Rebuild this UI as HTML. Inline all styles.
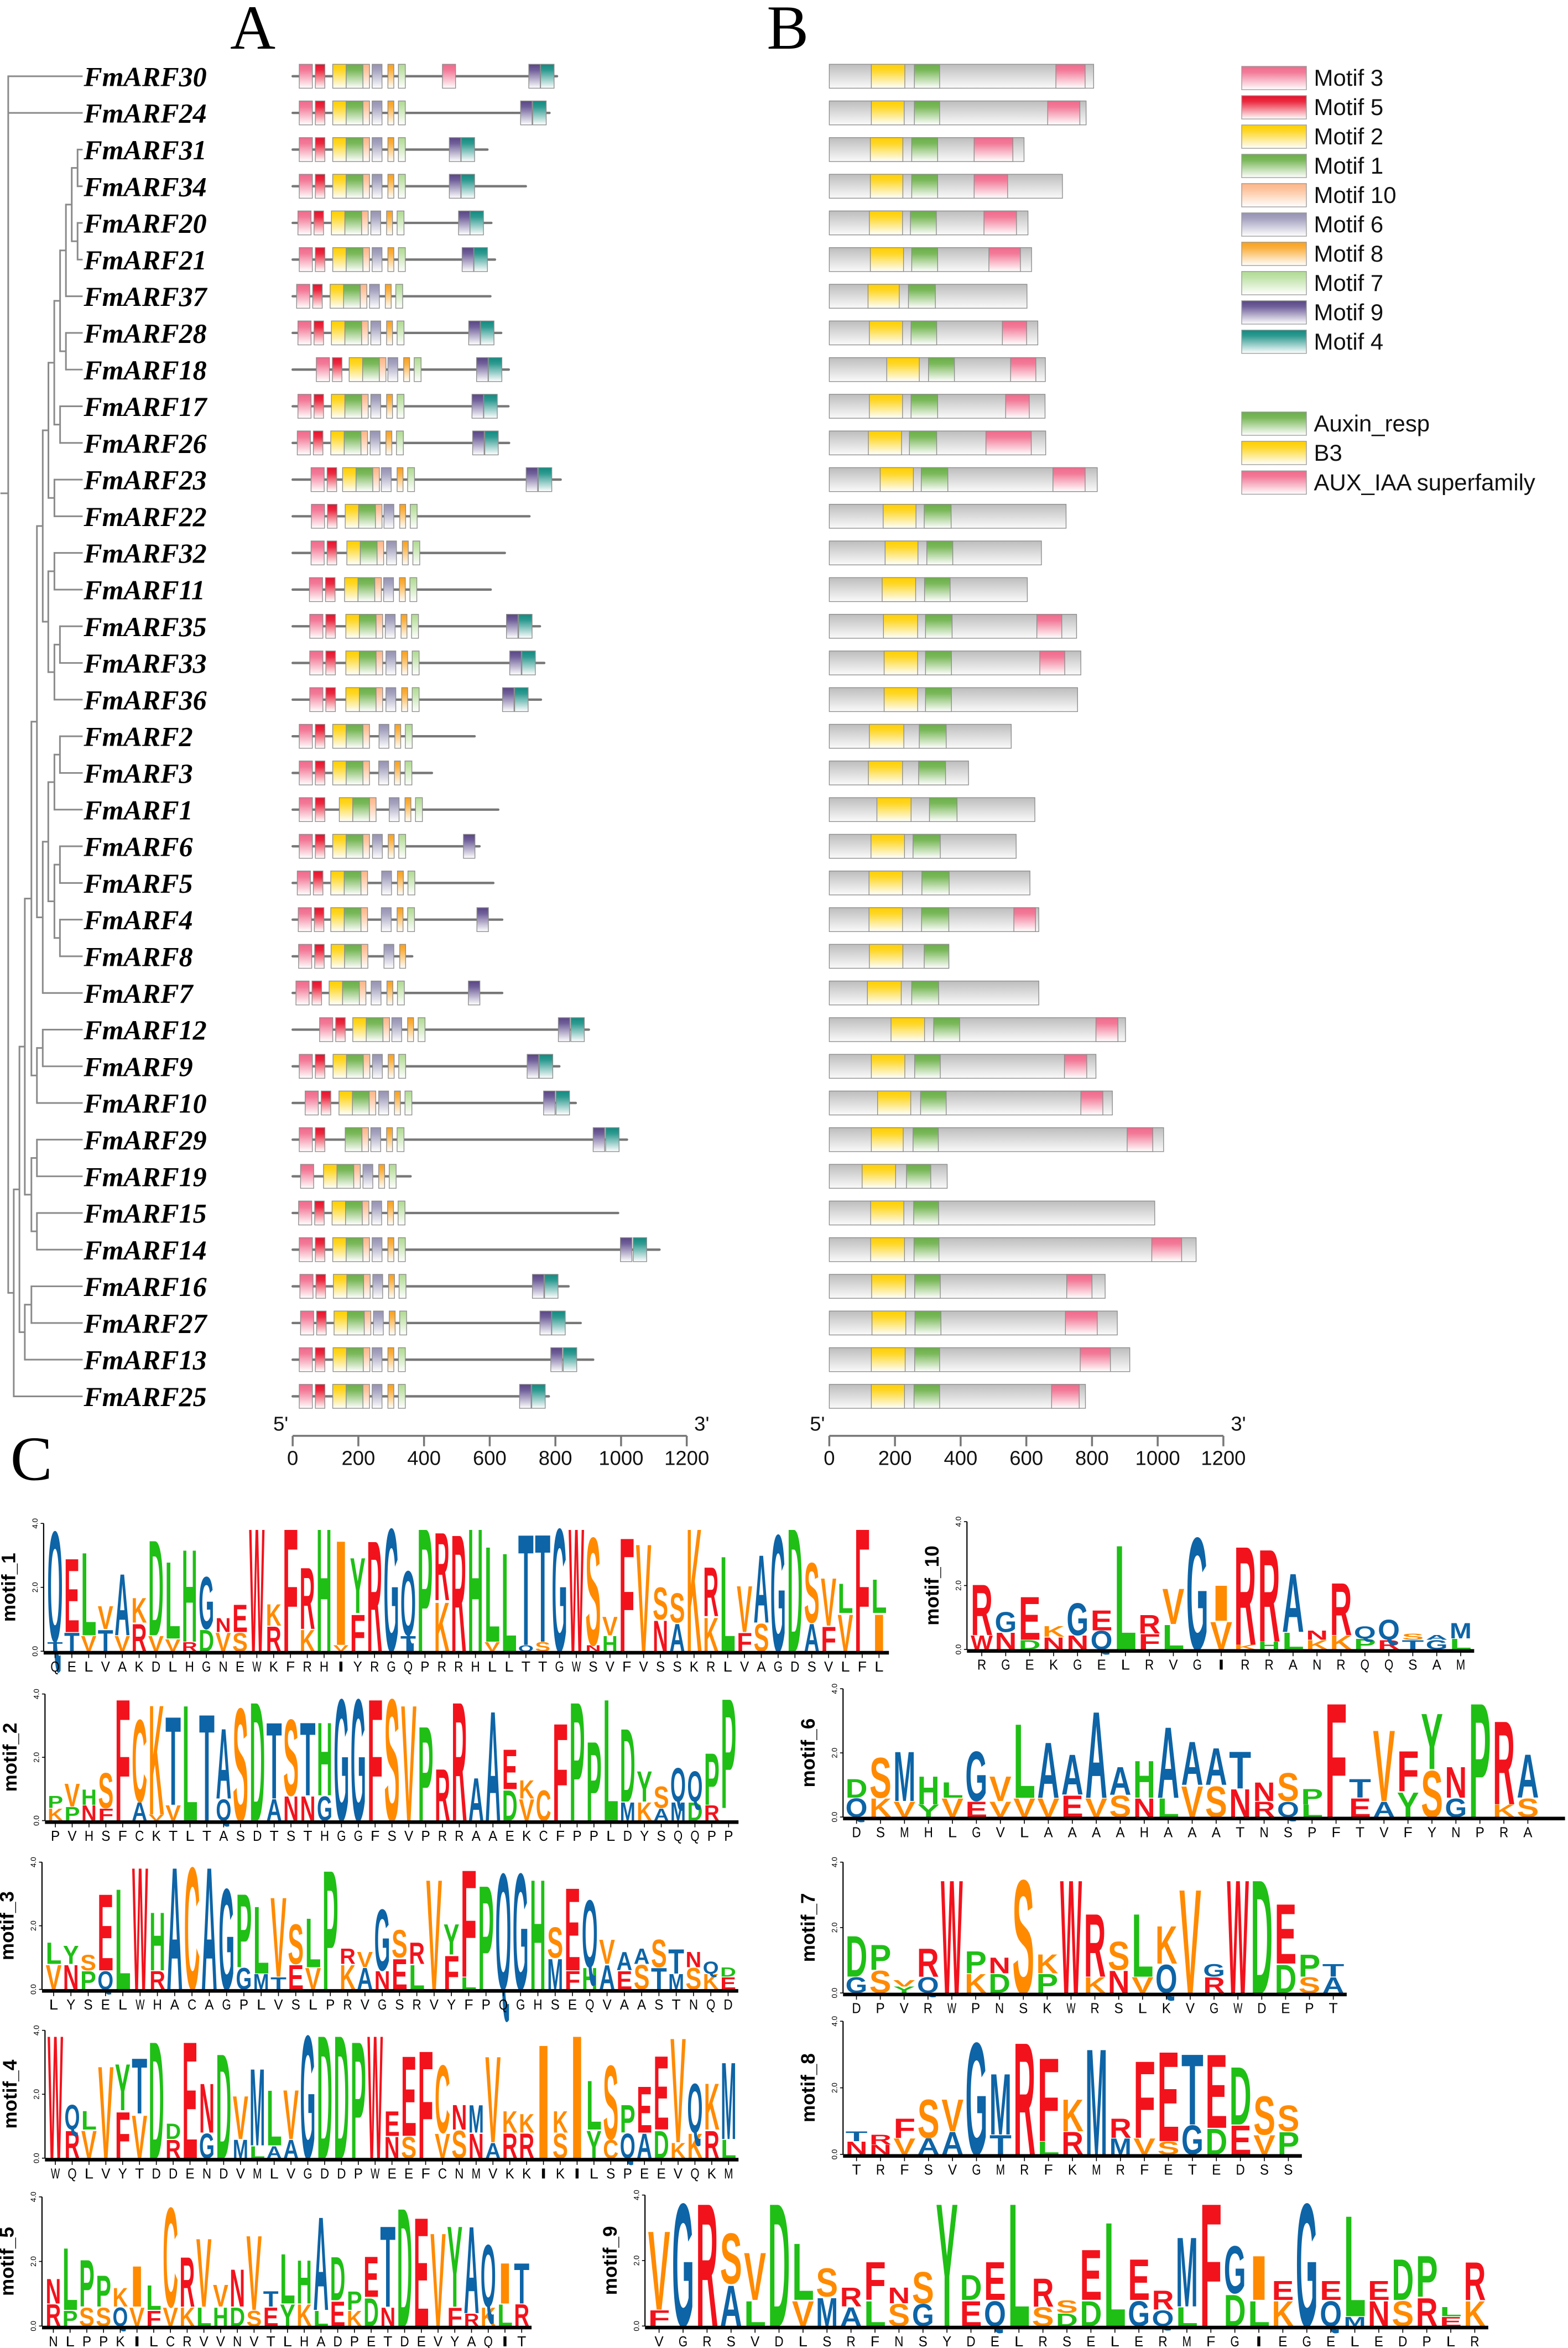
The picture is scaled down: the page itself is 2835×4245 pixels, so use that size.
<!DOCTYPE html>
<html>
<head>
<meta charset="utf-8">
<style>
html,body{margin:0;padding:0;background:#fff;}
svg{display:block;}
text{font-family:"Liberation Sans",sans-serif;}
.lbl{font-family:"Liberation Serif",serif;font-weight:bold;font-style:italic;font-size:18.5px;}
.big{font-family:"Liberation Serif",serif;font-size:42px;}
.tick{font-size:13.5px;fill:#111;}
.leg{font-size:15.5px;fill:#111;}
</style>
</head>
<body>
<svg id="fig" xmlns="http://www.w3.org/2000/svg" width="2835" height="4245" viewBox="0 0 1049 1570.7" preserveAspectRatio="none">
<defs>
<linearGradient id="g-m3" x1="0" y1="0" x2="0" y2="1"><stop offset="0" stop-color="#f06a8c"/><stop offset="0.25" stop-color="#f27a98"/><stop offset="1" stop-color="#ffffff"/></linearGradient>
<linearGradient id="g-m5" x1="0" y1="0" x2="0" y2="1"><stop offset="0" stop-color="#e8112d"/><stop offset="0.25" stop-color="#ea2a40"/><stop offset="1" stop-color="#ffffff"/></linearGradient>
<linearGradient id="g-m2" x1="0" y1="0" x2="0" y2="1"><stop offset="0" stop-color="#ffcf00"/><stop offset="0.25" stop-color="#ffd626"/><stop offset="1" stop-color="#ffffff"/></linearGradient>
<linearGradient id="g-m1" x1="0" y1="0" x2="0" y2="1"><stop offset="0" stop-color="#6aaf48"/><stop offset="0.25" stop-color="#7ab85a"/><stop offset="1" stop-color="#ffffff"/></linearGradient>
<linearGradient id="g-m10" x1="0" y1="0" x2="0" y2="1"><stop offset="0" stop-color="#fdb587"/><stop offset="0.25" stop-color="#fdc39d"/><stop offset="1" stop-color="#ffffff"/></linearGradient>
<linearGradient id="g-m6" x1="0" y1="0" x2="0" y2="1"><stop offset="0" stop-color="#9592b2"/><stop offset="0.25" stop-color="#a5a3bf"/><stop offset="1" stop-color="#ffffff"/></linearGradient>
<linearGradient id="g-m8" x1="0" y1="0" x2="0" y2="1"><stop offset="0" stop-color="#f9a01a"/><stop offset="0.25" stop-color="#fab040"/><stop offset="1" stop-color="#ffffff"/></linearGradient>
<linearGradient id="g-m7" x1="0" y1="0" x2="0" y2="1"><stop offset="0" stop-color="#b0da92"/><stop offset="0.25" stop-color="#c0e2a8"/><stop offset="1" stop-color="#ffffff"/></linearGradient>
<linearGradient id="g-m9" x1="0" y1="0" x2="0" y2="1"><stop offset="0" stop-color="#5a4684"/><stop offset="0.25" stop-color="#70609a"/><stop offset="1" stop-color="#ffffff"/></linearGradient>
<linearGradient id="g-m4" x1="0" y1="0" x2="0" y2="1"><stop offset="0" stop-color="#118a80"/><stop offset="0.25" stop-color="#2e9a90"/><stop offset="1" stop-color="#ffffff"/></linearGradient>
<linearGradient id="g-gray" x1="0" y1="0" x2="0" y2="1"><stop offset="0" stop-color="#bdbdbd"/><stop offset="1" stop-color="#fafafa"/></linearGradient>
</defs>
<text class="big" x="154" y="32.6">A</text>
<text class="big" x="513" y="32.6">B</text>
<text class="big" x="7" y="990">C</text>
<g id="tree"></g>
<g id="labels"></g>
<g id="panelA"></g>
<g id="panelB"></g>
<g id="legend"></g>
<g id="logos"></g>
</svg>
<script>
const NS='http://www.w3.org/2000/svg';
function mk(tag, attrs, parent){const e=document.createElementNS(NS,tag);for(const k in attrs)e.setAttribute(k,attrs[k]);parent.appendChild(e);return e;}

// ---------- gene data ----------
const geneNames=['FmARF30','FmARF24','FmARF31','FmARF34','FmARF20','FmARF21','FmARF37','FmARF28','FmARF18','FmARF17','FmARF26','FmARF23','FmARF22','FmARF32','FmARF11','FmARF35','FmARF33','FmARF36','FmARF2','FmARF3','FmARF1','FmARF6','FmARF5','FmARF4','FmARF8','FmARF7','FmARF12','FmARF9','FmARF10','FmARF29','FmARF19','FmARF15','FmARF14','FmARF16','FmARF27','FmARF13','FmARF25'];
const protLen=[805,782,593,710,605,616,602,635,658,657,659,816,721,646,603,753,766,756,554,424,626,569,611,638,364,638,902,812,862,1018,359,991,1117,840,877,915,780];
const shiftA=[0,0,0,0,-4,0,-8,-4,52,-4,-6,36,37,36,31,32,32,32,0,0,0,0,-6,-3,-2,-10,62,0,18,0,4,-2,0,2,4,0,0];
const shiftB=[0,0,0,0,-4,0,-8,-4,50,-4,-6,30,38,43,36,40,40,40,0,0,20,0,-6,-6,-5,-11,61,1,19,-3,-28,-2,0,2,4,1,0];
const shiftC=[0,0,0,0,-4,0,-8,-4,48,-4,-6,28,36,44,35,40,42,42,21,20,52,1,29,28,36,-3,60,1,20,-4,-28,-1,0,2,4,0,0];
const motif9Start=[719,694,477,477,505,516,null,536,560,546,548,711,null,null,null,651,661,639,null,null,null,520,null,561,null,535,809,714,764,915,null,null,998,730,753,786,691];
const motif4Start=[755,731,513,513,540,552,null,572,596,582,585,748,null,null,null,688,698,676,null,null,null,null,null,null,null,null,847,751,802,953,null,null,1037,767,789,824,728];
const extraMotif3=[456,null,null,null,null,null,null,null,null,null,null,null,null,null,null,null,null,null,null,null,null,null,null,null,null,null,null,null,null,null,null,null,null,null,null,null,null];
const missingMotifs=['','','','','','','','','','','','','','','','','','','','','','','','','m7','','','','','m2','m5','','','','','',''];
const b3Start=[128,128,125,125,122,125,118,122,175,122,119,155,164,170,161,165,167,167,122,119,145,127,121,121,122,116,188,128,147,128,100,126,126,129,130,128,128];
const b3End=[230,228,224,224,223,226,213,223,274,223,220,256,264,270,263,269,269,269,227,223,249,229,223,223,224,219,290,230,248,225,202,227,229,232,233,231,229];
const auxStart=[259,259,251,251,247,251,241,249,302,249,244,280,289,297,290,293,293,293,274,272,305,255,282,281,289,251,318,260,278,255,235,257,258,260,261,260,258];
const auxEnd=[336,336,330,330,326,330,323,327,381,330,327,361,371,376,368,374,372,372,356,354,389,338,365,364,364,333,397,338,356,332,309,333,334,338,340,336,336];
const iaaStart=[690,665,441,441,471,486,null,527,552,537,477,681,null,null,null,632,641,null,null,null,null,null,null,562,null,null,812,716,766,907,null,null,982,723,719,764,677];
const iaaEnd=[779,763,559,543,570,582,null,601,629,609,615,779,null,null,null,708,717,null,null,null,null,null,null,628,null,null,879,784,833,985,null,null,1073,800,816,856,761];

const templ={m3:[20,40],m5:[69,29],m2:[122,41],m1:[163,51],m10:[214,20],m6:[242,30],m8:[290,18],m7:[322,21]};
const rowY=i=>51+i*24.53;
const XA=u=>195.8+u*0.2197;
const XB=u=>554.8+u*0.2197;

// ---------- tree ----------
const N=(x,c)=>({x:x,c:c});
const tA=N(51.9,[2,3]),tB=N(51.9,[4,5]),tC=N(48,[tA,tB]),tD=N(44.1,[tC,6]),tE=N(44.1,[7,8]),tF=N(40.2,[tD,tE]),tG=N(40.2,[9,10]),tH=N(36.3,[tF,tG]),tI=N(36.4,[11,12]),tJ=N(32.4,[tH,tI]);
const tK=N(36.4,[13,14]),tL=N(40.1,[15,16]),tM=N(36.4,[tL,17]),tO=N(32.3,[tK,tM]),tP=N(28.6,[tJ,tO]);
const tQ=N(40.1,[18,19]),tR=N(36.4,[tQ,20]),tS1=N(40.1,[21,22]),tS2=N(40.1,[23,24]),tT=N(36.4,[tS1,tS2]),tU=N(32.3,[tR,tT]),tV=N(28.6,[tU,25]),tW=N(24.7,[tP,tV]);
const tX=N(28.6,[26,27]),tY=N(24.7,[tX,28]),tZ=N(21,[tW,tY]);
const ta=N(24.7,[29,30]),tb=N(24.7,[31,32]),tc=N(21,[ta,tb]),td=N(16.6,[tZ,tc]);
const te=N(21,[33,34]),tf=N(16.6,[te,35]),tg=N(13,[td,tf]),th=N(9.2,[tg,36]);
const treeRoot=N(5.5,[0,1,th]);
const treeG=document.getElementById('tree');
function nodeY(n){if(typeof n==='number')return rowY(n);const ys=n.c.map(nodeY);return (ys[0]+ys[ys.length-1])/2;}
function tline(x1,y1,x2,y2){
  const l=mk('line',{x1:x1,y1:y1,x2:x2,y2:y2,stroke:'#8a8a8a','stroke-width':1.1},treeG);
  
  
}
function drawNode(n,px){
  const y=nodeY(n);const x=(typeof n==='number')?55.3:n.x;
  tline(px,y,x,y);
  if(typeof n!=='number'){const ys=n.c.map(nodeY);tline(x,ys[0]-0.55,x,ys[ys.length-1]+0.55);n.c.forEach(c=>drawNode(c,x));}
}
{const ys=treeRoot.c.map(nodeY);tline(treeRoot.x,ys[0]-0.55,treeRoot.x,ys[ys.length-1]+0.55);treeRoot.c.forEach(c=>drawNode(c,treeRoot.x));tline(0.3,330,treeRoot.x,330);}

// ---------- labels ----------
const labG=document.getElementById('labels');
geneNames.forEach((nm,i)=>{
  const t=mk('text',{x:56,y:rowY(i)+6.5,'class':'lbl'},labG);
  t.textContent=nm;
  
  
});

// ---------- panel A ----------
const pA=document.getElementById('panelA');
function mbox(g,key,u0,w,y){
  const r=mk('rect',{x:XA(u0),y:y-8,width:w*0.2197,height:16,fill:'url(#g-'+key+')',stroke:'#8c8c8c','stroke-width':0.5},g);
  
  
}
geneNames.forEach((nm,i)=>{
  const y=rowY(i);
  const g=mk('g',{},pA);
  
  
  const ln=mk('line',{x1:XA(0),y1:y,x2:XA(protLen[i]),y2:y,stroke:'#777','stroke-width':1.6,'stroke-linecap':'round'},g);
  
  
  const miss=missingMotifs[i];
  [['m3',shiftA],['m5',shiftA],['m2',shiftB],['m1',shiftB],['m10',shiftB],['m6',shiftC],['m8',shiftC],['m7',shiftC]].forEach(([k,arr])=>{
    if(miss===k)return;
    mbox(g,k,templ[k][0]+arr[i],templ[k][1],y);
  });
  if(extraMotif3[i]!==null)mbox(g,'m3',extraMotif3[i],40,y);
  if(motif9Start[i]!==null)mbox(g,'m9',motif9Start[i],35,y);
  if(motif4Start[i]!==null)mbox(g,'m4',motif4Start[i],41,y);
});

// ---------- panel B ----------
const pB=document.getElementById('panelB');
function dbox(g,name,fill,a,b,y){
  const r=mk('rect',{x:XB(a),y:y-8,width:(b-a)*0.2197,height:16,fill:fill,stroke:'#8c8c8c','stroke-width':0.5},g);
  
  
}
geneNames.forEach((nm,i)=>{
  const y=rowY(i);
  const g=mk('g',{},pB);
  
  
  dbox(g,'protein-bar','url(#g-gray)',0,protLen[i],y);
  dbox(g,'b3-domain','url(#g-m2)',b3Start[i],b3End[i],y);
  dbox(g,'auxin-resp-domain','url(#g-m1)',auxStart[i],auxEnd[i],y);
  if(iaaStart[i]!==null)dbox(g,'aux-iaa-domain','url(#g-m3)',iaaStart[i],iaaEnd[i],y);
});

// ---------- axes A & B ----------
const axisTicks=[0,200,400,600,800,1000,1200];
function drawAxis(X,nm){
  const g=mk('g',{},document.getElementById('fig'));
  
  
  const l=mk('line',{x1:X(0),y1:960.5,x2:X(1200),y2:960.5,stroke:'#777','stroke-width':1.3},g);
  
  
  axisTicks.forEach(v=>{
    const t=mk('line',{x1:X(v),y1:960.5,x2:X(v),y2:967.5,stroke:'#777','stroke-width':1.3},g);
    
    
    const tx=mk('text',{x:X(v),y:980,'text-anchor':'middle','class':'tick'},g);
    tx.textContent=String(v);
    
    
  });
  const a=mk('text',{x:X(0)-13,y:957,'class':'tick'},g);
  a.textContent="5'";
  
  
  const b=mk('text',{x:X(1200)+5,y:957,'class':'tick'},g);
  b.textContent="3'";
  
  
}
drawAxis(XA,'panel-a-axis');
drawAxis(XB,'panel-b-axis');

// ---------- legend ----------
const legNames=['Motif 3','Motif 5','Motif 2','Motif 1','Motif 10','Motif 6','Motif 8','Motif 7','Motif 9','Motif 4'];
const legKeys=['m3','m5','m2','m1','m10','m6','m8','m7','m9','m4'];
const domNames=['Auxin_resp','B3','AUX_IAA superfamily'];
const domKeys=['m1','m2','m3'];
const domTops=[275.6,295.2,315];
const legG=document.getElementById('legend');
legNames.forEach((nm,i)=>{
  const top=44.4+i*19.6;
  const r=mk('rect',{x:830.7,y:top,width:43.3,height:15.6,fill:'url(#g-'+legKeys[i]+')',stroke:'#9a9a9a','stroke-width':0.5},legG);
  
  
  const t=mk('text',{x:879,y:top+13,'class':'leg'},legG);
  t.textContent=nm;
  
  
});
domNames.forEach((nm,i)=>{
  const top=domTops[i];
  const r=mk('rect',{x:830.7,y:top,width:43.3,height:15.6,fill:'url(#g-'+domKeys[i]+')',stroke:'#9a9a9a','stroke-width':0.5},legG);
  
  
  const t=mk('text',{x:879,y:top+13,'class':'leg'},legG);
  t.textContent=nm;
  
  
});

// ---------- motif logos data ----------
const motif1Cons='QELVAKDLHGNEWKFRHIYRGQPRRHLLTTGWSVFVSSKRLVAGDSVLFL';
const motif1Top=[3.6,2.4,2.7,0.75,2.0,0.8,3.1,2.5,3.0,1.7,0.45,0.9,4.0,0.7,4.0,2.0,4.0,3.4,1.8,3.6,4.0,2.1,4.0,2.2,3.8,4.0,3.1,3.2,3.6,3.5,4.0,4.0,3.5,0.6,3.7,3.5,1.05,0.95,4.0,1.6,3.1,1.5,2.2,3.8,4.0,1.95,1.55,0.95,4.0,1.1];
const motif1Sec='TTVTVRVVRDVS.R.K.VF..T.K..V.QS..NH..NA.K.FS..AFV.I';
const motif1SecH=[0.3,0.6,0.5,0.7,0.5,0.9,0.5,0.4,0.3,0.7,0.6,0.6,0,0.8,0,0.7,0,0.2,1.2,0,0,0.5,0,1.6,0,0,0.3,0,0.2,0.3,0,0,0.2,0.5,0,0,1.0,0.9,0,1.1,0,0.6,0.9,0,0,0.9,0.8,1.2,0,1.2];

const motif10Cons='RGEKGELRVGIRRANRQQSAM';
const motif10Top=[1.65,0.65,1.4,0.35,1.05,0.65,3.4,0.6,1.15,3.65,1.15,3.2,3.0,1.9,0.3,1.7,0.4,0.65,0.2,0.15,0.5];
const motif10Sec='WNDNNQ.FL.VKHLKKPRTGL';
const motif10SecH=[0.45,0.55,0.3,0.4,0.45,0.6,0,0.5,0.8,0,0.9,0.15,0.25,0.55,0.3,0.45,0.35,0.3,0.3,0.3,0.35];

const motif2Cons='PVHSFCKTLTASDTSTHGGFSVPRRAAEKCFPPLDYSQQPP';
const motif2Top=[0.4,0.75,0.5,1.15,4.0,2.7,3.6,2.9,3.8,3.5,2.3,3.7,3.9,2.5,2.5,2.4,2.4,4.0,4.0,4.0,4.0,3.8,3.1,1.7,3.9,1.4,3.6,1.3,0.6,1.0,3.2,3.9,2.6,4.0,2.4,1.0,0.7,1.1,1.0,1.7,3.6];
const motif2Sec='KPNF.AVV..Q..ANNG.....K.H.DDV..R.FMKAMDR';
const motif2SecH=[0.4,0.45,0.5,0.4,0,0.6,0.2,0.5,0,0,0.7,0,0,0.7,0.8,0.8,0.8,0,0,0,0,0,0,0.8,0,1.0,0,1.0,0.7,0.8,0,0,0.6,0,0.6,0.6,0.4,0.6,0.6,0.5,0.4];

const motif6Cons='DSMHLGVLAAAAHAAATNSPFTVFYNPRA';
const motif6Top=[0.6,1.3,1.6,0.9,0.5,1.6,0.8,2.4,1.8,1.3,2.8,0.9,1.2,2.3,1.4,1.2,1.2,0.6,0.9,0.5,3.7,0.6,2.3,1.3,1.8,1.0,3.7,2.7,1.4];
const motif6Sec='QKVYVEVVVEVSNLVSNRQL.EAYSG.KS';
const motif6SecH=[0.6,0.6,0.5,0.4,0.6,0.5,0.5,0.6,0.6,0.7,0.6,0.7,0.6,0.6,1.0,1.0,0.9,0.5,0.5,0.4,0,0.6,0.5,0.8,1.5,0.6,0,0.4,0.6];

const motif3Cons='LYSELWHACAGPLVSLPRVGSRVYFPQGHSEQVAASTNQD';
const motif3Top=[0.7,0.6,0.5,2.5,3.3,4.0,1.9,4.0,4.0,4.0,3.3,2.4,2.2,2.6,1.3,1.6,3.9,0.5,0.5,2.0,0.9,0.7,3.6,1.0,3.5,3.4,3.8,3.8,3.6,1.0,2.7,2.2,0.8,0.6,0.5,0.9,0.8,0.5,0.4,0.3];
const motif3Sec='VNPQ..R....GMTEV.KANEL.FL....MFHAESTMSKE';
const motif3SecH=[0.8,0.8,0.6,0.6,0,0,0.6,0,0,0,0,0.7,0.5,0.4,0.8,0.7,0,0.8,0.7,0.6,1.0,0.8,0,1.1,0.4,0,0,0,0,1.0,0.6,0.7,0.8,0.6,0.8,0.7,0.5,0.7,0.5,0.4];

const motif7Cons='DPVRWPNSKWRSLKVGWDEPT';
const motif7Top=[1.3,0.8,0.2,0.9,3.6,0.7,0.5,3.6,0.6,3.6,2.0,0.9,2.0,1.2,3.3,0.4,3.6,3.6,1.9,0.7,0.4];
const motif7Sec='GSYQ.KD.P.KNVQ.R..DSA';
const motif7SecH=[0.5,0.7,0.2,0.5,0,0.6,0.6,0,0.6,0,0.5,0.7,0.5,0.9,0,0.5,0,0,0.9,0.5,0.5];

const motif4Cons='WQLVYTDDENDVMLVGDDPWEEFCNMVKKIKILSPEEVQKM';
const motif4Top=[4.0,0.8,0.6,3.0,1.5,1.8,3.8,0.5,3.8,1.6,3.4,1.4,2.5,1.8,1.6,4.0,4.0,4.0,3.8,4.0,0.8,2.6,3.5,2.2,0.8,0.9,2.8,0.7,0.6,3.7,0.7,4.0,1.6,2.4,0.9,1.5,2.4,3.4,1.6,1.5,2.5];
const motif4Sec='.RV.FV.R.G.MLAA.....NS.VSNARR.S.YCQADKKRL';
const motif4SecH=[0,0.9,0.9,0,1.5,1.4,0,0.6,0,0.8,0,0.6,0.4,0.4,0.6,0,0,0,0,0,0.7,0.7,0,0.8,0.9,0.8,0.5,0.8,0.8,0,0.8,0,0.9,0.6,0.8,0.8,0.9,0.5,0.8,0.9,0.6];

const motif8Cons='TRFSVGMRFKMRFETEDSS';
const motif8Top=[0.3,0.3,0.6,1.2,1.0,3.5,1.9,3.5,2.6,1.0,3.3,0.6,2.4,2.8,2.2,2.3,1.8,1.2,0.8];
const motif8Sec='NNVAA.T.LR.MVSGDEVP';
const motif8SecH=[0.4,0.3,0.5,0.5,0.7,0,0.6,0,0.4,0.7,0,0.5,0.5,0.4,0.9,0.8,0.9,0.6,0.7];

const motif5Cons='NLPPKILCRVVNVTLHADPETDEVYAQIT';
const motif5Top=[0.8,2.0,1.5,1.0,0.6,1.3,0.8,3.2,1.6,2.2,0.7,1.2,2.4,0.5,1.6,1.4,3.0,1.4,0.6,1.3,2.6,3.8,3.5,3.0,2.6,2.8,2.0,1.3,1.3];
const motif5Sec='RPSSQVFVKLHDSEYKLEKDN...FRKLR';
const motif5SecH=[0.7,0.5,0.6,0.6,0.6,0.6,0.5,0.6,0.6,0.6,0.6,0.6,0.5,0.6,0.7,0.7,0.5,0.8,0.5,0.9,0.6,0,0,0,0.6,0.4,0.6,0.7,0.7];

const motif9Cons='VGRSVDLSRFNSYDELRSELERMFGIEGELEDPLR';
const motif9Top=[2.5,3.9,3.9,1.6,1.5,3.9,1.8,0.9,0.6,1.2,0.5,1.0,3.9,0.8,1.2,3.9,0.9,0.4,1.6,3.3,1.3,0.6,2.2,3.9,1.5,1.4,0.6,3.9,0.6,3.2,0.6,1.3,1.3,0.3,1.2];
const motif9Sec='F..AL.VMALSG.EQ.SDD.GQL.DLK.QMNSREK';
const motif9SecH=[0.5,0,0,1.3,0.8,0,0.8,0.9,0.6,0.8,0.7,0.7,0,0.8,0.8,0,0.6,0.4,0.8,0,0.8,0.5,0.6,0,1.0,0.8,0.8,0,0.8,0.3,0.8,0.8,0.9,0.3,0.8];

// ---------- logo drawing ----------
const aaColor={A:'#0d64a6',G:'#0d64a6',Q:'#0d64a6',T:'#0d64a6',M:'#0d64a6',
  E:'#f2121c',W:'#f2121c',F:'#f2121c',R:'#f2121c',N:'#f2121c',
  L:'#1fbf16',D:'#1fbf16',H:'#1fbf16',Y:'#1fbf16',P:'#1fbf16',
  V:'#ff8a00',K:'#ff8a00',S:'#ff8a00',I:'#ff8a00',C:'#ff8a00'};
const logoG=document.getElementById('logos');
function letter(g,ch,x,w,bottom,hpx){
  if(hpx<0.4)return;
  const t=mk('text',{x:x+w*0.04,y:0,'font-size':10,'font-weight':'bold',textLength:w*0.92,lengthAdjust:'spacingAndGlyphs',
    transform:'translate(0,'+bottom+') scale(1,'+(hpx/7.25)+')',fill:aaColor[ch]||'#888'},g);
  t.textContent=ch;
  
  
}
function drawLogo(name,cons,top,sec,secH,axisX,colStart,colW,y4,y0,lineEnd){
  const g=mk('g',{},logoG);
  
  
  const bit=(y0-y4)/4;
  const n=cons.length;
  for(let i=0;i<n;i++){
    const x=colStart+i*colW;
    const h2=secH[i]*bit;
    if(sec[i]!=='.')letter(g,sec[i],x,colW,y0,h2);
    letter(g,cons[i],x,colW,y0-(sec[i]!=='.'?h2:0),top[i]*bit);
    const tk=mk('line',{x1:x+colW/2,y1:y0+2,x2:x+colW/2,y2:y0+4.5,stroke:'#000','stroke-width':0.6},g);
    
    
    const lb=mk('text',{x:x+colW/2,y:y0+13.5,'text-anchor':'middle','font-size':9.5,textLength:6,lengthAdjust:'spacingAndGlyphs',fill:'#000'},g);
    lb.textContent=cons[i];
    
    
  }
  const endX=lineEnd||(colStart+n*colW+1);
  const base=mk('line',{x1:axisX,y1:y0+1,x2:endX,y2:y0+1,stroke:'#000','stroke-width':2.4},g);
  
  
  const ya=mk('line',{x1:axisX,y1:y4,x2:axisX,y2:y0,stroke:'#000','stroke-width':0.8},g);
  
  
  ['4.0','2.0','0.0'].forEach((s,k)=>{
    const yy=y4+k*2*bit;
    const tk=mk('line',{x1:axisX-2,y1:yy,x2:axisX,y2:yy,stroke:'#000','stroke-width':0.6},g);
    
    
    const tl=mk('text',{x:axisX-4,y:yy,'font-size':5,'text-anchor':'middle',transform:'rotate(-90 '+(axisX-4)+' '+yy+')',fill:'#000'},g);
    tl.textContent=s;
    
    
  });
  const ax=axisX-19, ay=(y4+y0)/2;
  const t=mk('text',{x:ax,y:ay,'font-size':13,'font-weight':'bold','text-anchor':'middle',transform:'rotate(-90 '+ax+' '+ay+')',fill:'#000'},g);
  t.textContent=name;
  
  
}
drawLogo('motif_1',motif1Cons,motif1Top,motif1Sec,motif1SecH,29.2,31.2,11.25,1019.1,1104.6);
drawLogo('motif_10',motif10Cons,motif10Top,motif10Sec,motif10SecH,646.9,648.8,16.02,1017.9,1103.4);
drawLogo('motif_2',motif2Cons,motif2Top,motif2Sec,motif2SecH,30.1,31.4,11.26,1133.2,1217.9);
drawLogo('motif_6',motif6Cons,motif6Top,motif6Sec,motif6SecH,564,565,16.04,1129.7,1215.5,1047);
drawLogo('motif_3',motif3Cons,motif3Top,motif3Sec,motif3SecH,28.1,30.1,11.57,1245.7,1330.8);
drawLogo('motif_7',motif7Cons,motif7Top,motif7Sec,motif7SecH,564,565,15.95,1245.7,1333.2);
drawLogo('motif_4',motif4Cons,motif4Top,motif4Sec,motif4SecH,30.1,31.4,11.26,1358.2,1443.7);
drawLogo('motif_8',motif8Cons,motif8Top,motif8Sec,motif8SecH,564,565,16.05,1352.1,1441.2);
drawLogo('motif_5',motif5Cons,motif5Top,motif5Sec,motif5SecH,28.1,30.1,11.19,1469.6,1556.0);
drawLogo('motif_9',motif9Cons,motif9Top,motif9Sec,motif9SecH,431.5,432.9,16.05,1468.4,1556.0);
</script>
</body>
</html>
